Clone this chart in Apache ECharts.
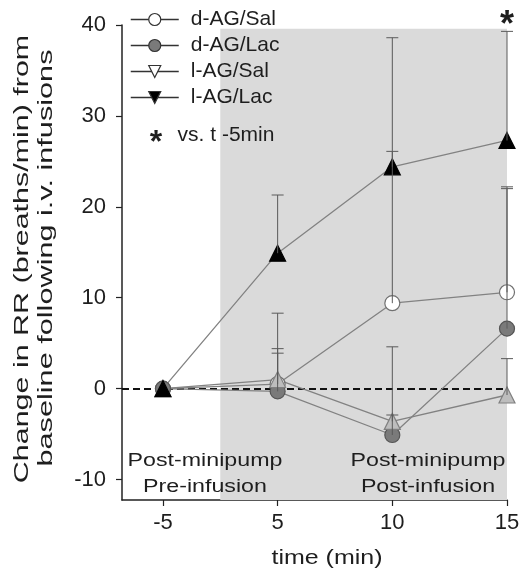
<!DOCTYPE html>
<html><head><meta charset="utf-8">
<script src="https://cdn.jsdelivr.net/npm/echarts@6/dist/echarts.min.js"></script>
<style>html,body{margin:0;padding:0;background:#fff}#c{width:526px;height:575px}</style>
</head><body><div id="c"></div>
<script>
// ---- data ----
const timeLabels = ['-5', '5', '10', '15'];
const xIndex = [0, 1, 2, 3];
const seriesNames = ['d-AG/Sal', 'd-AG/Lac', 'l-AG/Sal', 'l-AG/Lac'];
const dAGSal = [0, 0.5, 9.4, 10.6];
const dAGSalErr = [0, 7.8, 16.7, 11.6];
const dAGLac = [0, -0.3, -5.1, 6.6];
const dAGLacErr = [0, 4.2, 9.7, 15.4];
const lAGSal = [0, 1.0, -3.6, -0.7];
const lAGSalErr = [0, 3.4, 0.7, 4.0];
const lAGLac = [0, 14.9, 24.4, 27.3];
const lAGLacErr = [0, 6.4, 14.2, 12.0];
const yTicks = [-10, 0, 10, 20, 30, 40];
const shadeStart = 0.5, shadeEnd = 3; // infusion period (index units)

const values = [dAGSal, dAGLac, lAGSal, lAGLac];
const errors = [dAGSalErr, dAGLacErr, lAGSalErr, lAGLacErr];
const looks = [
  {symbol: 'circle', size: 15, fill: '#ffffff', border: '#707070'},
  {symbol: 'circle', size: 15, fill: '#7a7a7a', border: '#555555'},
  {symbol: 'triangle', size: 16, fill: '#bdbdbd', border: '#808080'},
  {symbol: 'triangle', size: 16, fill: '#000000', border: '#000000'}
];

const FONT = 'Liberation Sans, Arial, sans-serif';
const chart = echarts.init(document.getElementById('c'), null, {renderer: 'canvas'});

const series = [];
series.push({
  type: 'line', data: [], z: 1, silent: true,
  markArea: {silent: true, z: 1, itemStyle: {color: '#dadada'},
    data: [[{coord: [shadeStart, -12.25]}, {coord: [shadeEnd, 39.6]}]]}
});
series.push({
  type: 'line', data: [], z: 2, silent: true,
  markLine: {silent: true, z: 2, symbol: 'none', label: {show: false},
    lineStyle: {color: '#111', width: 2, type: [7, 4]},
    data: [{yAxis: 0}]}
});
seriesNames.forEach((n, k) => {
  series.push({
    type: 'line', name: n, z: 10,
    data: xIndex.map((x, i) => [x, values[k][i]]),
    symbol: looks[k].symbol, symbolSize: looks[k].size,
    lineStyle: {color: '#828282', width: 1.3},
    itemStyle: {color: looks[k].fill, borderColor: looks[k].border, borderWidth: 1.2}
  });
});
seriesNames.forEach((n, k) => {
  series.push({
    type: 'custom', z: 12, silent: true,
    data: xIndex.map((x, i) => [x, values[k][i], values[k][i] + errors[k][i]]),
    renderItem: (p, api) => {
      if (api.value(2) === api.value(1)) return null;
      const lo = api.coord([api.value(0), api.value(1)]);
      const hi = api.coord([api.value(0), api.value(2)]);
      return {type: 'group', children: [
        {type: 'line', shape: {x1: lo[0], y1: lo[1], x2: hi[0], y2: hi[1]}, style: {stroke: '#5a5a5a', lineWidth: 1}},
        {type: 'line', shape: {x1: hi[0] - 6, y1: hi[1], x2: hi[0] + 6, y2: hi[1]}, style: {stroke: '#5a5a5a', lineWidth: 1}}
      ]};
    }
  });
});

function txt(text, x, y, size, sx, extra) {
  return Object.assign({type: 'text', x: x, y: y, scaleX: sx, z: 50,
    style: {text: text, font: size + 'px ' + FONT, fill: '#1e1e1e', textAlign: 'center', textVerticalAlign: 'middle'}}, extra || {});
}

const option = {
  animation: false,
  backgroundColor: '#fff',
  grid: {left: 122, right: 19, top: 25, bottom: 75, containLabel: false},
  xAxis: {
    type: 'value', min: -0.357, max: 3,
    axisLine: {onZero: false, lineStyle: {color: '#222', width: 1.5}},
    axisTick: {length: 6, customValues: xIndex, lineStyle: {color: '#222', width: 1.2}},
    axisLabel: {customValues: xIndex, margin: 12, fontFamily: FONT, fontSize: 22, color: '#1e1e1e',
      formatter: v => timeLabels[Math.round(v)]},
    splitLine: {show: false}
  },
  yAxis: {
    type: 'value', min: -12.25, max: 40,
    axisLine: {show: true, onZero: false, lineStyle: {color: '#222', width: 1.5}},
    axisTick: {show: true, length: 6, customValues: yTicks, lineStyle: {color: '#222', width: 1.2}},
    axisLabel: {customValues: yTicks, margin: 16, fontFamily: FONT, fontSize: 22, color: '#1e1e1e'},
    splitLine: {show: false}
  },
  legend: {
    orient: 'vertical', left: 125, top: 4, itemWidth: 48, itemHeight: 15, itemGap: 5,
    textStyle: {fontFamily: FONT, fontSize: 21, color: '#1e1e1e', padding: [0, 0, 0, 7]},
    lineStyle: {color: '#333', width: 1.5},
    itemStyle: {borderColor: '#333', borderWidth: 1.2},
    data: [
      {name: 'd-AG/Sal'},
      {name: 'd-AG/Lac'},
      {name: 'l-AG/Sal', symbolRotate: 180, itemStyle: {color: '#ffffff'}},
      {name: 'l-AG/Lac', symbolRotate: 180}
    ]
  },
  graphic: [
    txt('Change in RR (breaths/min) from', 22, 259, 21, 1.45, {rotation: Math.PI / 2}),
    txt('baseline following i.v. infusions', 46, 258, 21, 1.46, {rotation: Math.PI / 2}),
    txt('time (min)', 327, 558, 20, 1.25),
    txt('Post-minipump', 205, 461, 18, 1.29),
    txt('Pre-infusion', 205, 487, 18, 1.29),
    txt('Post-minipump', 428, 461, 18, 1.29),
    txt('Post-infusion', 428, 487, 18, 1.29),
    txt('vs. t -5min', 226, 135, 20, 1.05),
    txt('*', 156, 143, 32, 1, {style: {text: '*', font: 'bold 32px ' + FONT, fill: '#1e1e1e', textAlign: 'center', textVerticalAlign: 'middle'}}),
    txt('*', 507, 26, 36, 1, {style: {text: '*', font: 'bold 36px ' + FONT, fill: '#1e1e1e', textAlign: 'center', textVerticalAlign: 'middle'}})
  ],
  series: series
};
chart.setOption(option);
</script></body></html>
